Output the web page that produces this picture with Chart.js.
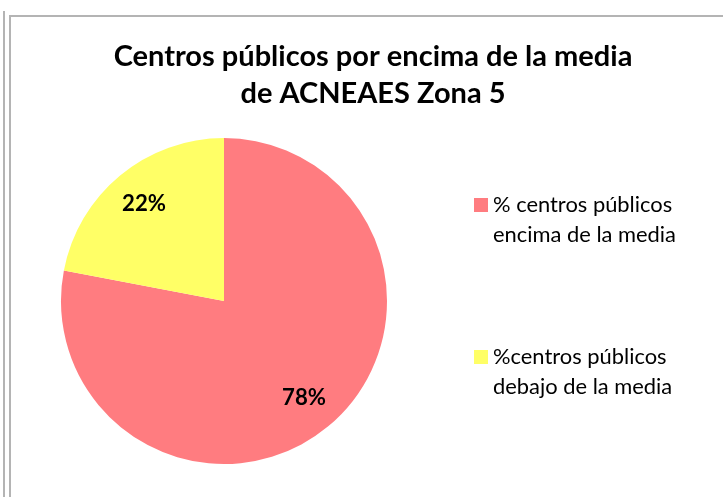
<!DOCTYPE html>
<html>
<head>
<meta charset="utf-8">
<script src="https://cdn.jsdelivr.net/npm/chart.js@4"></script>
<style>
  body { margin: 0; background: #fff; }
  #wrap { position: relative; width: 723px; height: 497px; overflow: hidden; }
  #outer { position: absolute; left: 3px; top: 11px; width: 2px; height: 486px; background: #b4b4b4; }
  #frame { position: absolute; left: 9px; top: 15px; width: 714px; height: 482px;
           border-left: 2px solid #b4b4b4; border-top: 2px solid #b4b4b4; box-sizing: border-box; }
  canvas { position: absolute; left: 0; top: 0; }
</style>
</head>
<body>
<div id="wrap">
  <div id="outer"></div>
  <div id="frame"></div>
  <canvas id="pie" width="723" height="497"></canvas>
</div>
<script>
// Data
const titleLines = ["Centros públicos por encima de la media", "de ACNEAES Zona 5"];
const categories = [
  ["% centros públicos", "encima de la media"],
  ["%centros públicos", "debajo de la media"]
];
const values = [78, 22];
const sliceColors = ["#FF7C80", "#FFFF66"];

const FONT = "Lato, 'Open Sans', sans-serif";

// pick a font size so that text reaches the wanted width
function fitFont(ctx, weight, text, width) {
  ctx.font = weight + " 20px " + FONT;
  const size = 20 * width / ctx.measureText(text).width;
  return weight + " " + size.toFixed(1) + "px " + FONT;
}

// title, legend and percent labels drawn on the canvas
const decorations = {
  id: 'decorations',
  afterDatasetsDraw(chart) {
    const ctx = chart.ctx;
    const total = values.reduce((a, b) => a + b, 0);

    ctx.save();
    ctx.fillStyle = '#000';
    ctx.textAlign = 'center';
    ctx.textBaseline = 'middle';

    // percent labels inside slices
    const meta = chart.getDatasetMeta(0);
    ctx.font = fitFont(ctx, 'bold', '22%', 44);
    meta.data.forEach((arc, i) => {
      const mid = (arc.startAngle + arc.endAngle) / 2;
      const r = arc.outerRadius * 0.77;
      const pct = Math.round(values[i] / total * 100) + '%';
      ctx.fillText(pct, arc.x + Math.cos(mid) * r, arc.y + Math.sin(mid) * r);
    });

    // title
    ctx.font = fitFont(ctx, 'bold', titleLines[0], 519);
    ctx.fillText(titleLines[0], 373, 57);
    ctx.fillText(titleLines[1], 373, 94);

    // legend
    ctx.textAlign = 'left';
    ctx.font = fitFont(ctx, 'normal', categories[0][0], 179);
    const legendTops = [205, 357];
    categories.forEach((lines, i) => {
      const y = legendTops[i];
      ctx.fillStyle = sliceColors[i];
      ctx.fillRect(474, y - 7, 14, 14);
      ctx.fillStyle = '#000';
      lines.forEach((t, j) => ctx.fillText(t, 493, y + j * 30));
    });
    ctx.restore();
  }
};

new Chart(document.getElementById('pie'), {
  type: 'pie',
  data: {
    labels: categories.map(c => c.join(' ')),
    datasets: [{
      data: values,
      backgroundColor: sliceColors,
      borderWidth: 0
    }]
  },
  options: {
    responsive: false,
    animation: false,
    layout: { padding: { left: 61, right: 336, top: 138, bottom: 33 } },
    plugins: {
      legend: { display: false },
      title: { display: false },
      tooltip: { enabled: false }
    }
  },
  plugins: [decorations]
});
</script>
</body>
</html>
